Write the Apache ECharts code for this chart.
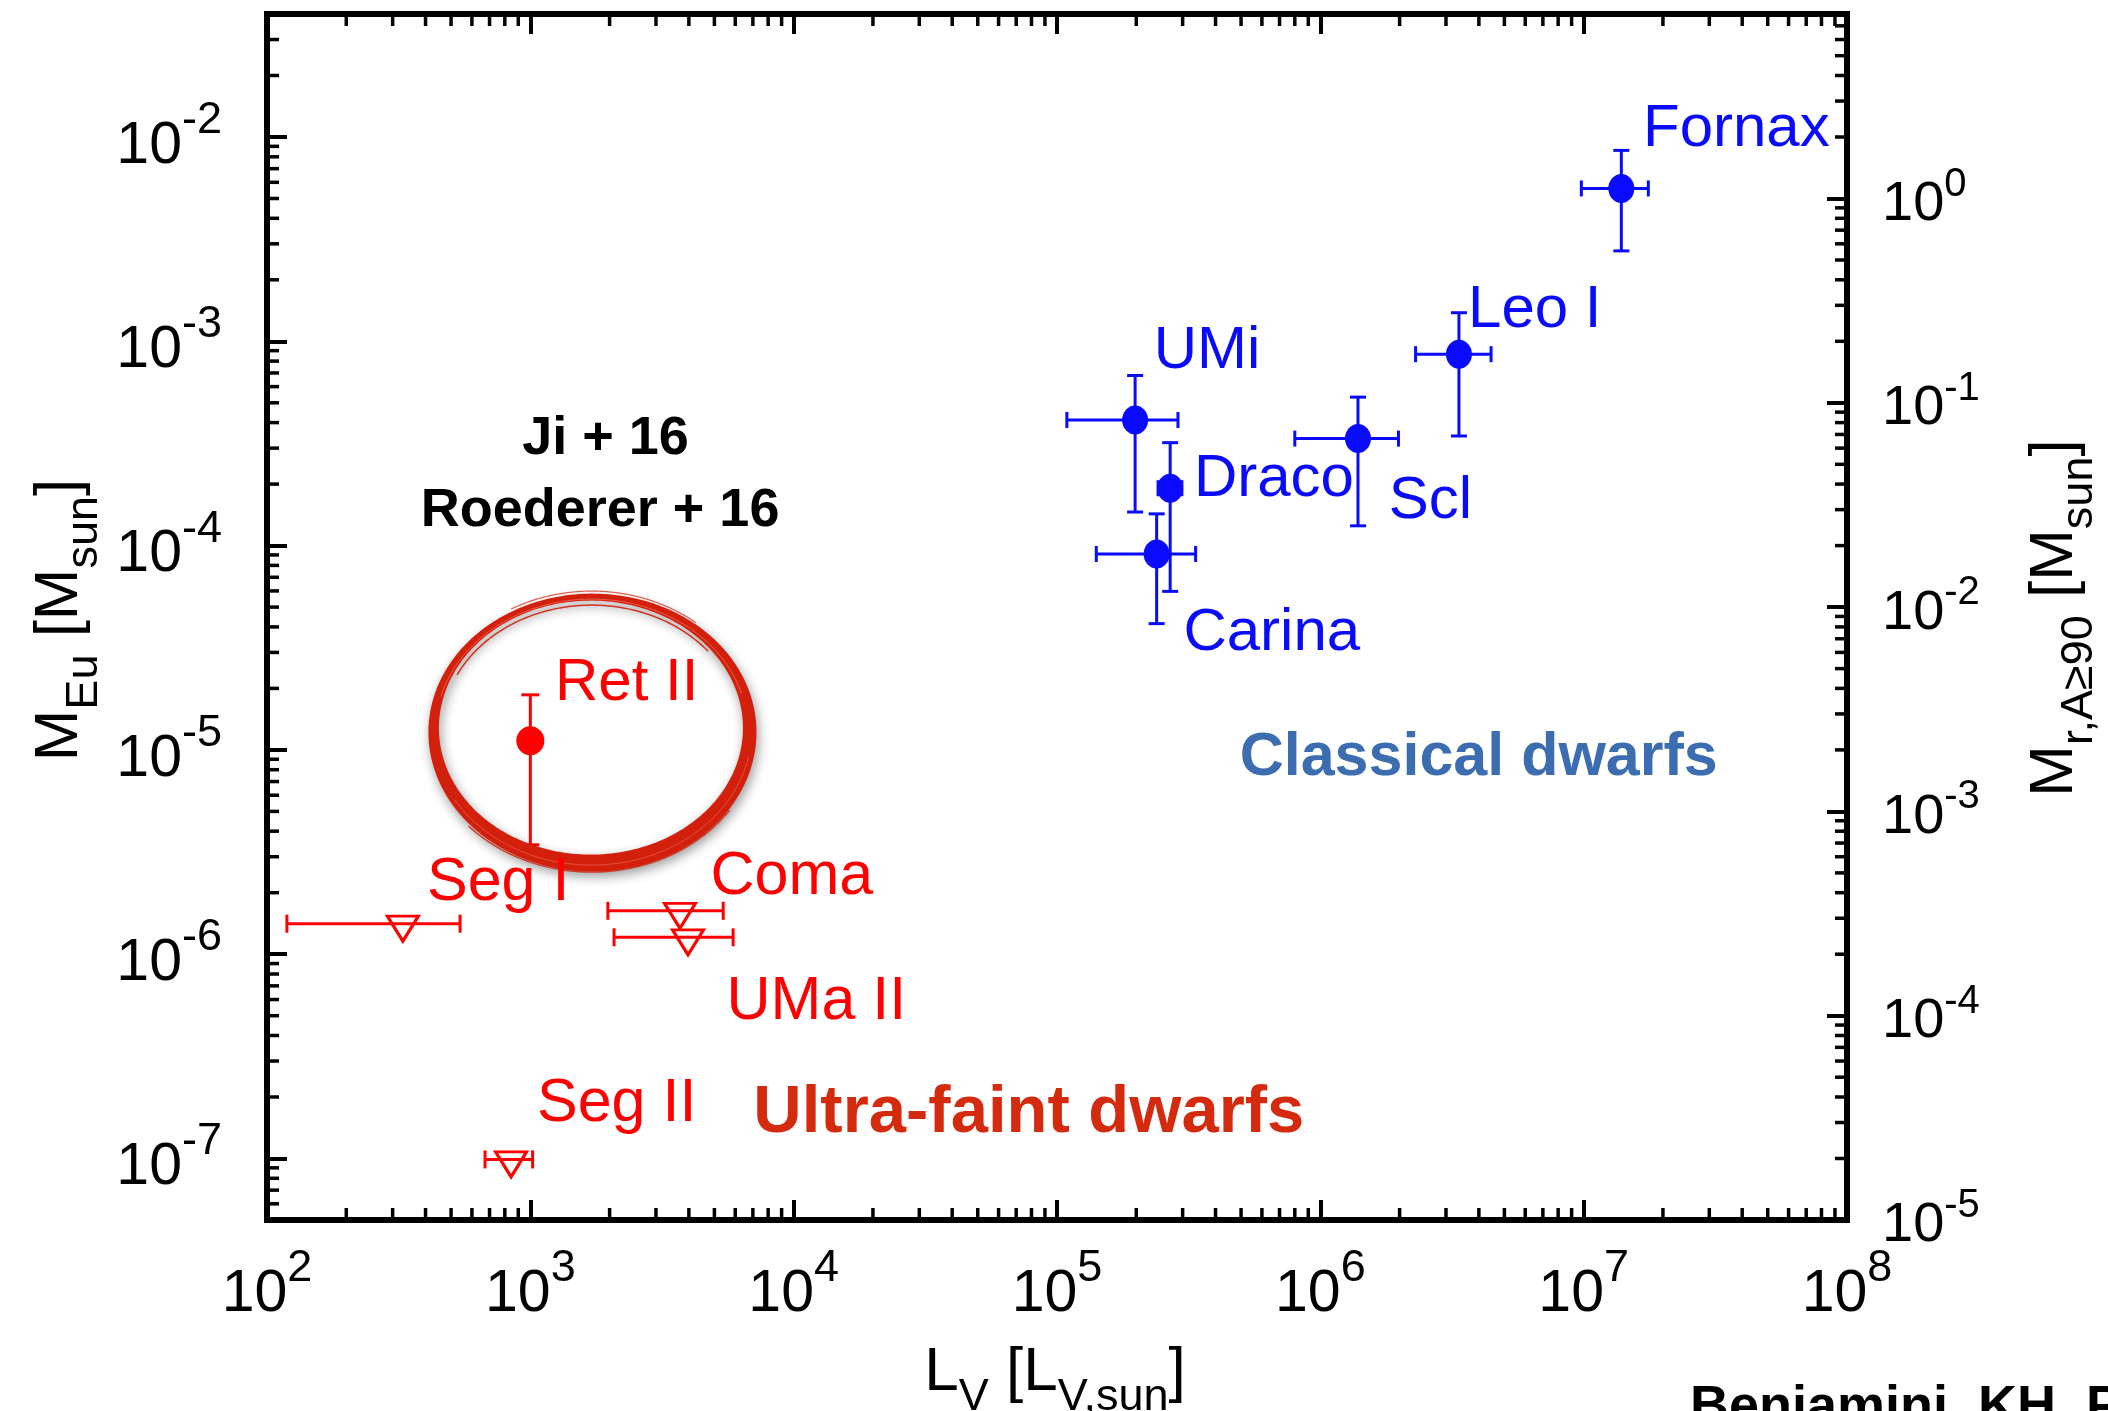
<!DOCTYPE html>
<html>
<head>
<meta charset="utf-8">
<script src="https://cdn.jsdelivr.net/npm/echarts@6/dist/echarts.min.js"></script>
<style>
html,body{margin:0;padding:0;background:#fff;}
#c{width:2108px;height:1411px;}
</style>
</head>
<body>
<div id="c"></div>
<script>
// ---------------- data ----------------
// Classical dwarfs: L_V [L_V,sun] and M_Eu [M_sun] with error ranges
const classicalNames = ['Fornax', 'Leo I', 'UMi', 'Draco', 'Scl', 'Carina'];
const classicalLV    = [1.39e7, 3.36e6, 1.98e5, 2.69e5, 1.39e6, 2.39e5];
const classicalLVLo  = [9.8e6, 2.30e6, 1.09e5, 2.42e5, 8.0e5, 1.41e5];
const classicalLVHi  = [1.76e7, 4.45e6, 2.88e5, 2.98e5, 1.98e6, 3.36e5];
const classicalMEu   = [5.6e-3, 8.65e-4, 4.12e-4, 1.91e-4, 3.34e-4, 9.1e-5];
const classicalMEuLo = [2.77e-3, 3.44e-4, 1.46e-4, 5.97e-5, 1.25e-4, 4.15e-5];
const classicalMEuHi = [8.6e-3, 1.38e-3, 6.8e-4, 3.19e-4, 5.33e-4, 1.43e-4];

// Ultra-faint dwarf with a detection
const retNames  = ['Ret II'];
const retLV     = [1.0e3];
const retMEu    = [1.11e-5];
const retMEuLo  = [3.43e-6];
const retMEuHi  = [1.86e-5];

// Ultra-faint dwarfs with upper limits
const limitNames = ['Seg I', 'Coma', 'UMa II', 'Seg II'];
const limitLV    = [328, 3.70e3, 3.97e3, 845];
const limitLVLo  = [119, 1.97e3, 2.08e3, 673];
const limitLVHi  = [541, 5.40e3, 5.89e3, 1.02e3];
const limitMEu   = [1.41e-6, 1.63e-6, 1.21e-6, 9.9e-8];

// Annotation anchors (data coordinates)
const classicalLabelLV  = [1.68e7, 3.64e6, 2.33e5, 3.31e5, 1.82e6, 3.02e5];
const classicalLabelMEu = [1.18e-2, 1.53e-3, 9.6e-4, 2.29e-4, 1.77e-4, 4.03e-5];
const retLabelLV   = [1.24e3];
const retLabelMEu  = [2.30e-5];
const limitLabelLV  = [405, 4.83e3, 5.56e3, 1.06e3];
const limitLabelMEu = [2.42e-6, 2.58e-6, 6.32e-7, 1.99e-7];
const groupNames    = ['Classical dwarfs', 'Ultra-faint dwarfs'];
const groupLabelLV  = [4.94e5, 7.03e3];
const groupLabelMEu = [9.9e-6, 1.80e-7];
const refNames      = ['Ji + 16', 'Roederer + 16'];
const refLabelLV    = [1.93e3, 1.84e3];
const refLabelMEu   = [3.6e-4, 1.59e-4];
const highlightLV   = [1.71e3];
const highlightMEu  = [1.25e-5];

// Axes
const xMin = 1e2, xMax = 1e8;
const yLeftMin = 5e-8, yLeftMax = 4e-2;
const yRightMin = 1e-5, yRightMax = 8;
const minorMultipliers = [2, 3, 4, 5, 6, 7, 8, 9];
const xDecades = [2, 3, 4, 5, 6, 7];
const yLeftDecades = [-8, -7, -6, -5, -4, -3, -2];
const yRightDecades = [-5, -4, -3, -2, -1, 0];

// ---------------- helpers ----------------
const FONT = '"Liberation Sans", Arimo, Arial, Helvetica, sans-serif';
const BLUE = '#0a0aff';
const RED = '#ff0000';

function minorValues(decades, lo, hi) {
  const out = [];
  decades.forEach(e => minorMultipliers.forEach(m => {
    const v = m * Math.pow(10, e);
    if (v > lo * 1.0001 && v < hi * 0.9999) out.push(v);
  }));
  return out;
}
function supLabel(v) {
  const l = Math.log10(v);
  const e = Math.round(l);
  if (Math.abs(l - e) > 1e-3) return '';
  return '{b|10}{s|' + e + '}';
}
function richFor(main, sup, pad) {
  return {
    b: {fontSize: main, fontFamily: FONT, color: '#000', verticalAlign: 'bottom'},
    s: {fontSize: sup, fontFamily: FONT, color: '#000', verticalAlign: 'bottom', padding: [0, 0, pad, 0]}
  };
}
const tickStyle = {show: true, inside: true, length: 20, lineStyle: {color: '#000', width: 4}};

function errorSeries(lv, lvLo, lvHi, meu, meuLo, meuHi, color, cap) {
  return {
    type: 'custom', silent: true, clip: false, z: 3,
    data: lv.map((v, i) => [v, meu[i]]),
    renderItem: function (params, api) {
      const i = params.dataIndex;
      const children = [];
      const st = {stroke: color, lineWidth: 3, fill: null};
      if (lvLo && lvLo[i] != null) {
        const a = api.coord([lvLo[i], meu[i]]);
        const b = api.coord([lvHi[i], meu[i]]);
        children.push({type: 'line', shape: {x1: a[0], y1: a[1], x2: b[0], y2: b[1]}, style: st});
        children.push({type: 'line', shape: {x1: a[0], y1: a[1] - cap, x2: a[0], y2: a[1] + cap}, style: st});
        children.push({type: 'line', shape: {x1: b[0], y1: b[1] - cap, x2: b[0], y2: b[1] + cap}, style: st});
      }
      if (meuLo && meuLo[i] != null) {
        const a = api.coord([lv[i], meuLo[i]]);
        const b = api.coord([lv[i], meuHi[i]]);
        children.push({type: 'line', shape: {x1: a[0], y1: a[1], x2: b[0], y2: b[1]}, style: st});
        children.push({type: 'line', shape: {x1: b[0] - cap, y1: b[1], x2: b[0] + cap, y2: b[1]}, style: st});
        children.push({type: 'line', shape: {x1: a[0] - cap, y1: a[1], x2: a[0] + cap, y2: a[1]}, style: st});
      }
      return {type: 'group', children: children};
    }
  };
}

function textSeries(lvArr, meuArr, names, font, color, align, z) {
  return {
    type: 'custom', silent: true, clip: false, z: z || 6,
    data: lvArr.map((v, i) => [v, meuArr[i]]),
    renderItem: function (params, api) {
      const i = params.dataIndex;
      const p = api.coord([lvArr[i], meuArr[i]]);
      return {
        type: 'text', x: p[0], y: p[1] + 7,
        style: {
          text: names[i], fill: color, textFill: color, font: font,
          align: align, verticalAlign: 'middle', textAlign: align, textVerticalAlign: 'middle'
        }
      };
    }
  };
}

function minorTickSeries(values, which) {
  return {
    type: 'custom', silent: true, clip: false, z: 8,
    yAxisIndex: which === 'right' ? 1 : 0,
    data: values.map(v => (which === 'x' ? [v, 1e-4] : [1e3, v])),
    renderItem: function (params, api) {
      const cs = params.coordSys;
      const v = values[params.dataIndex];
      const st = {stroke: '#000', lineWidth: 3.5};
      const L = 12;
      if (which === 'x') {
        const px = api.coord([v, 1e-4])[0];
        const yb = cs.y + cs.height, yt = cs.y;
        return {type: 'group', children: [
          {type: 'line', shape: {x1: px, y1: yb, x2: px, y2: yb - L}, style: st},
          {type: 'line', shape: {x1: px, y1: yt, x2: px, y2: yt + L}, style: st}
        ]};
      }
      const py = api.coord([1e3, v])[1];
      if (which === 'left') {
        return {type: 'line', shape: {x1: cs.x, y1: py, x2: cs.x + L, y2: py}, style: st};
      }
      const xr = cs.x + cs.width;
      return {type: 'line', shape: {x1: xr, y1: py, x2: xr - L, y2: py}, style: st};
    }
  };
}

function ringSeries() {
  return {
    type: 'custom', silent: true, clip: false, z: 5,
    data: highlightLV.map((v, i) => [v, highlightMEu[i]]),
    renderItem: function (params, api) {
      const c = api.coord([highlightLV[params.dataIndex], highlightMEu[params.dataIndex]]);
      const rx = 158, ry = 133, N = 240;
      const outer = [], inner = [];
      for (let k = 0; k <= N; k++) {
        const t = k / N * Math.PI * 2;
        const w = 12 + 5 * Math.sin(t) + 1.5 * Math.cos(t);
        outer.push([c[0] + (rx + w / 2) * Math.cos(t), c[1] + (ry + w / 2) * Math.sin(t)]);
        inner.push([c[0] + (rx - w / 2) * Math.cos(t), c[1] + (ry - w / 2) * Math.sin(t)]);
      }
      const ringPts = outer.concat(inner.slice().reverse());
      const streak = (dr, col, lw, from, to) => {
        const pts = [];
        for (let k = 0; k <= N; k++) {
          const t = from + (to - from) * k / N;
          pts.push([c[0] + (rx + dr) * Math.cos(t), c[1] + (ry + dr) * Math.sin(t)]);
        }
        return {type: 'polyline', shape: {points: pts}, style: {stroke: col, lineWidth: lw, fill: null}};
      };
      return {type: 'group', children: [
        {type: 'polygon', shape: {points: ringPts},
         style: {fill: '#d2200c', shadowBlur: 12, shadowColor: 'rgba(0,0,0,0.4)', shadowOffsetX: 2, shadowOffsetY: 5}},
        streak(-2, 'rgba(245,120,100,0.7)', 1, 3.4, 6.0),
        streak(2, 'rgba(240,110,90,0.6)', 1, 0.2, 2.6),
        streak(-8, 'rgba(210,32,12,0.9)', 1.5, 3.6, 5.6),
        streak(9, 'rgba(210,32,12,0.8)', 1.5, 0.6, 2.4),
        streak(6, 'rgba(210,32,12,0.7)', 1.2, 4.2, 5.4)
      ]};
    }
  };
}

// ---------------- chart ----------------
const chart = echarts.init(document.getElementById('c'), null, {renderer: 'canvas'});

const option = {
  animation: false,
  backgroundColor: '#ffffff',
  grid: {left: 267, right: 261, top: 14, bottom: 191, show: true, borderColor: '#000', borderWidth: 6, backgroundColor: 'transparent'},
  xAxis: [
    {type: 'log', logBase: 10, min: xMin, max: xMax, position: 'bottom',
     axisLine: {show: false}, splitLine: {show: false}, axisTick: tickStyle,
     axisLabel: {show: true, margin: 26, formatter: supLabel, rich: richFor(59, 45, 33)}},
    {type: 'log', logBase: 10, min: xMin, max: xMax, position: 'top',
     axisLine: {show: false}, splitLine: {show: false}, axisTick: tickStyle,
     axisLabel: {show: false}}
  ],
  yAxis: [
    {type: 'log', logBase: 10, min: yLeftMin, max: yLeftMax, position: 'left',
     axisLine: {show: false}, splitLine: {show: false}, axisTick: tickStyle,
     axisLabel: {show: true, margin: 45, formatter: supLabel, rich: richFor(59, 45, 33)}},
    {type: 'log', logBase: 10, min: yRightMin, max: yRightMax, position: 'right',
     axisLine: {show: false}, splitLine: {show: false}, axisTick: tickStyle,
     axisLabel: {show: true, margin: 35, formatter: supLabel, rich: richFor(56, 40, 28)}}
  ],
  graphic: [
    {type: 'text', x: 68, y: 620, rotation: Math.PI / 2, z: 100,
     style: {text: '{m|M}{s|Eu}{m| [M}{s|sun}{m|]}', fill: '#000', align: 'center', verticalAlign: 'middle',
       textAlign: 'center', textVerticalAlign: 'middle',
       rich: {m: {font: '62px ' + FONT, verticalAlign: 'bottom', padding: [0, 0, 16, 0]},
              s: {font: '45px ' + FONT, verticalAlign: 'bottom'}}}},
    {type: 'text', x: 2063, y: 618, rotation: Math.PI / 2, z: 100,
     style: {text: '{m|M}{s|r,A≥90}{m| [M}{s|sun}{m|]}', fill: '#000', align: 'center', verticalAlign: 'middle',
       textAlign: 'center', textVerticalAlign: 'middle',
       rich: {m: {font: '62px ' + FONT, verticalAlign: 'bottom', padding: [0, 0, 16, 0]},
              s: {font: '45px ' + FONT, verticalAlign: 'bottom'}}}},
    {type: 'text', x: 1055, y: 1381, z: 100,
     style: {text: '{m|L}{s|V}{m| [L}{s|V,sun}{m|]}', fill: '#000', align: 'center', verticalAlign: 'middle',
       textAlign: 'center', textVerticalAlign: 'middle',
       rich: {m: {font: '62px ' + FONT, verticalAlign: 'bottom', padding: [0, 0, 16, 0]},
              s: {font: '45px ' + FONT, verticalAlign: 'bottom'}}}},
    {type: 'text', x: 1690, y: 1381, z: 100,
     style: {text: 'Beniamini, KH, Piran 2016', fill: '#000', font: 'bold 54px ' + FONT,
       align: 'left', verticalAlign: 'top', textAlign: 'left', textVerticalAlign: 'top'}}
  ],
  series: [
    minorTickSeries(minorValues(xDecades, xMin, xMax), 'x'),
    minorTickSeries(minorValues(yLeftDecades, yLeftMin, yLeftMax), 'left'),
    minorTickSeries(minorValues(yRightDecades, yRightMin, yRightMax), 'right'),
    ringSeries(),
    errorSeries(classicalLV, classicalLVLo, classicalLVHi, classicalMEu, classicalMEuLo, classicalMEuHi, BLUE, 8),
    errorSeries(retLV, null, null, retMEu, retMEuLo, retMEuHi, RED, 9),
    errorSeries(limitLV, limitLVLo, limitLVHi, limitMEu, null, null, RED, 9),
    {type: 'scatter', name: 'Classical dwarfs', z: 4, silent: true,
     data: classicalLV.map((v, i) => [v, classicalMEu[i]]),
     symbol: 'circle', symbolSize: [26, 29], itemStyle: {color: BLUE, opacity: 1}},
    {type: 'scatter', name: 'Ret II', z: 4, silent: true,
     data: retLV.map((v, i) => [v, retMEu[i]]),
     symbol: 'circle', symbolSize: [28, 29], itemStyle: {color: RED, opacity: 1}},
    {type: 'scatter', name: 'Upper limits', z: 4, silent: true,
     data: limitLV.map((v, i) => [v, limitMEu[i]]),
     symbol: 'triangle', symbolRotate: 180, symbolSize: [31, 25], symbolOffset: [0, 5],
     itemStyle: {color: 'rgba(255,255,255,0)', borderColor: RED, borderWidth: 3, opacity: 1}},
    textSeries(classicalLabelLV, classicalLabelMEu, classicalNames, '60px ' + FONT, BLUE, 'left'),
    textSeries(retLabelLV, retLabelMEu, retNames, '60px ' + FONT, RED, 'left'),
    textSeries(limitLabelLV, limitLabelMEu, limitNames, '61px ' + FONT, RED, 'left'),
    textSeries([groupLabelLV[0]], [groupLabelMEu[0]], [groupNames[0]], 'bold 61px ' + FONT, '#3c6db0', 'left'),
    textSeries([groupLabelLV[1]], [groupLabelMEu[1]], [groupNames[1]], 'bold 67px ' + FONT, '#d42a0e', 'left'),
    textSeries(refLabelLV, refLabelMEu, refNames, 'bold 54px ' + FONT, '#000', 'center')
  ]
};
chart.setOption(option);
</script>
</body>
</html>
